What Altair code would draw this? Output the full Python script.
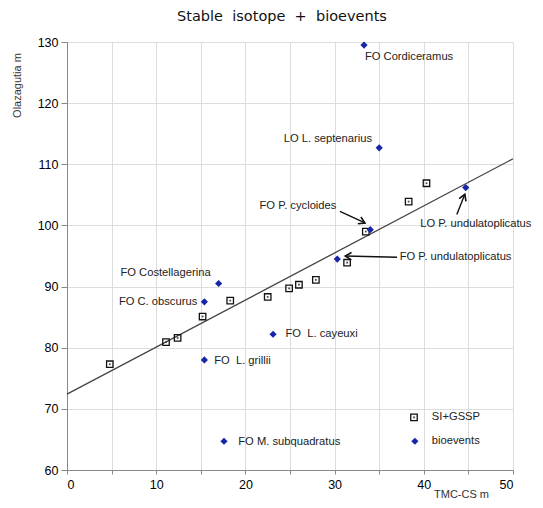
import math
import altair as alt
import pandas as pd

# ---- data ----
# SI+GSSP tie points (TMC-CS m, Olazagutia m)
si_x = [4.8, 11.1, 12.4, 15.2, 18.3, 22.5, 24.9, 26.0, 27.9, 31.4, 33.5, 38.3, 40.3]
si_y = [77.3, 80.9, 81.6, 85.1, 87.7, 88.3, 89.7, 90.3, 91.1, 93.9, 99.0, 103.9, 106.9]

# bioevents
bio_names = ["FO Cordiceramus", "LO L. septenarius", "FO P. cycloides",
             "FO P. undulatoplicatus", "LO P. undulatoplicatus", "FO Costellagerina",
             "FO C. obscurus", "FO\u00a0\u00a0L. cayeuxi", "FO\u00a0\u00a0L. grillii",
             "FO M. subquadratus"]
bio_x = [33.3, 35.0, 34.0, 30.3, 44.7, 17.0, 15.4, 23.1, 15.4, 17.6]
bio_y = [129.5, 112.7, 99.3, 94.5, 106.2, 90.5, 87.5, 82.2, 78.0, 64.7]

# label anchors (data units) and alignment
lab_x = [33.4, 34.2, 30.2, 37.3, 39.6, 16.1, 14.6, 24.5, 16.5, 19.2]
lab_y = [127.6, 114.2, 103.2, 94.8, 100.2, 92.2, 87.5, 82.2, 77.8, 64.5]
lab_align = ["left", "right", "right", "left", "left", "right", "right", "left", "left", "left"]

# correlation line
line_x = [0, 50]
line_y = [72.4, 110.9]

# arrows (start -> tip)
arr_x0 = [30.6, 37.0, 43.7]
arr_y0 = [102.3, 94.8, 101.8]
arr_x1 = [33.4, 31.2, 44.6]
arr_y1 = [100.4, 95.0, 105.1]

# legend entries
leg_names = ["SI+GSSP", "bioevents"]
leg_x = [38.9, 39.0]
leg_y = [68.6, 64.7]
leg_text_x = 40.9

# ---- layout ----
W, H = 446, 428
XDOM, YDOM = [0, 50], [60, 130]
BLUE = "#1626a6"
FONT = "Liberation Sans"
LFS = 11.2

xs = alt.Scale(domain=XDOM, nice=False, zero=False)
ys = alt.Scale(domain=YDOM, nice=False, zero=False)

si_df = pd.DataFrame({"x": si_x, "y": si_y})
bio_df = pd.DataFrame({"x": bio_x, "y": bio_y, "name": bio_names})
lab_df = pd.DataFrame({"x": lab_x, "y": lab_y, "name": bio_names, "align": lab_align})
line_df = pd.DataFrame({"x": line_x, "y": line_y})

kx = W / (XDOM[1] - XDOM[0])
ky = H / (YDOM[1] - YDOM[0])
angles = []
for a, b, c, d in zip(arr_x0, arr_y0, arr_x1, arr_y1):
    ang = math.degrees(math.atan2(-(d - b) * ky, (c - a) * kx)) % 360
    angles.append(ang)
arr_df = pd.DataFrame({"x0": arr_x0, "y0": arr_y0, "x1": arr_x1, "y1": arr_y1, "ang": angles})

leg_df = pd.DataFrame({"x": leg_x, "y": leg_y, "name": leg_names,
                       "tx": [leg_text_x] * len(leg_names)})

xaxis = alt.Axis(values=list(range(0, 51, 5)),
                 labelExpr="datum.value % 10 == 0 ? datum.label : ''",
                 title="TMC-CS m", titleX=394, titleY=27, titleAnchor="middle",
                 titleBaseline="alphabetic", titleFontSize=11, titleFontWeight="normal",
                 titleFont=FONT, titleColor="#333",
                 labelFontSize=12.5, labelPadding=4, tickSize=4)
yaxis = alt.Axis(values=list(range(60, 131, 5)),
                 labelExpr="datum.value % 10 == 0 ? datum.label : ''",
                 title="Olazagutia m", titleX=-50, titleY=43, titleAngle=270,
                 titleAlign="center", titleBaseline="middle",
                 titleFontSize=11, titleFontWeight="normal", titleFont=FONT,
                 titleColor="#333",
                 labelFontSize=12.5, labelPadding=3, tickSize=6)

base_line = alt.Chart(line_df).mark_line(color="#444", strokeWidth=1.3).encode(
    x=alt.X("x:Q", scale=xs, axis=xaxis),
    y=alt.Y("y:Q", scale=ys, axis=yaxis),
)

sq = alt.Chart(si_df).mark_point(shape="square", filled=False, color="#111",
                                 size=42, strokeWidth=1.3, opacity=1).encode(
    x=alt.X("x:Q", scale=xs), y=alt.Y("y:Q", scale=ys))
sq_dot = alt.Chart(si_df).mark_point(shape="square", filled=True, color="#333",
                                     size=3, opacity=0.9).encode(
    x=alt.X("x:Q", scale=xs), y=alt.Y("y:Q", scale=ys))

dia = alt.Chart(bio_df).mark_point(shape="diamond", filled=True, color=BLUE,
                                   size=52, opacity=1).encode(
    x=alt.X("x:Q", scale=xs), y=alt.Y("y:Q", scale=ys))

lab_left = alt.Chart(lab_df).transform_filter("datum.align == 'left'").mark_text(
    align="left", baseline="middle", font=FONT, fontSize=LFS, color="#222").encode(
    x=alt.X("x:Q", scale=xs), y=alt.Y("y:Q", scale=ys), text="name:N")
lab_right = alt.Chart(lab_df).transform_filter("datum.align == 'right'").mark_text(
    align="right", baseline="middle", font=FONT, fontSize=LFS, color="#222").encode(
    x=alt.X("x:Q", scale=xs), y=alt.Y("y:Q", scale=ys), text="name:N")

shafts = alt.Chart(arr_df).mark_rule(color="#111", strokeWidth=1.4).encode(
    x=alt.X("x0:Q", scale=xs), y=alt.Y("y0:Q", scale=ys),
    x2="x1:Q", y2="y1:Q")
heads = alt.Chart(arr_df).mark_point(shape="M-1,-0.6L0,0L-1,0.6", filled=False,
                                     color="#111", size=150, strokeWidth=1.6,
                                     opacity=1).encode(
    x=alt.X("x1:Q", scale=xs), y=alt.Y("y1:Q", scale=ys),
    angle=alt.Angle("ang:Q", scale=None))

leg_sq = alt.Chart(leg_df).transform_filter("datum.name == 'SI+GSSP'").mark_point(
    shape="square", filled=False, color="#111", size=42, strokeWidth=1.3, opacity=1).encode(
    x=alt.X("x:Q", scale=xs), y=alt.Y("y:Q", scale=ys))
leg_sq_dot = alt.Chart(leg_df).transform_filter("datum.name == 'SI+GSSP'").mark_point(
    shape="square", filled=True, color="#333", size=3, opacity=0.9).encode(
    x=alt.X("x:Q", scale=xs), y=alt.Y("y:Q", scale=ys))
leg_dia = alt.Chart(leg_df).transform_filter("datum.name == 'bioevents'").mark_point(
    shape="diamond", filled=True, color=BLUE, size=52, opacity=1).encode(
    x=alt.X("x:Q", scale=xs), y=alt.Y("y:Q", scale=ys))
leg_txt = alt.Chart(leg_df).mark_text(align="left", baseline="middle", font=FONT,
                                      fontSize=LFS, color="#222").encode(
    x=alt.X("tx:Q", scale=xs), y=alt.Y("y:Q", scale=ys), text="name:N")

title = alt.TitleParams(
    text="Stable\u00a0\u00a0isotope\u00a0\u00a0+\u00a0\u00a0bioevents",
    font="DejaVu Sans", fontSize=14.5, fontWeight="normal", color="#111",
    anchor="middle", dx=-8, offset=12)

chart = alt.layer(base_line, shafts, heads, sq, sq_dot, dia, lab_left, lab_right,
                  leg_sq, leg_sq_dot, leg_dia, leg_txt).properties(
    width=W, height=H, title=title,
    autosize=alt.AutoSizeParams(type="none"),
    padding={"left": 59, "top": 34, "right": 22, "bottom": 30},
).configure_view(stroke=None).configure_axis(
    grid=False, domainColor="#333", domainWidth=1.5, tickColor="#333", tickWidth=1.5,
    labelColor="#222", labelFont=FONT,
).configure(background="white")

chart.save("out.html", embed_options={"renderer": "svg", "actions": False})
